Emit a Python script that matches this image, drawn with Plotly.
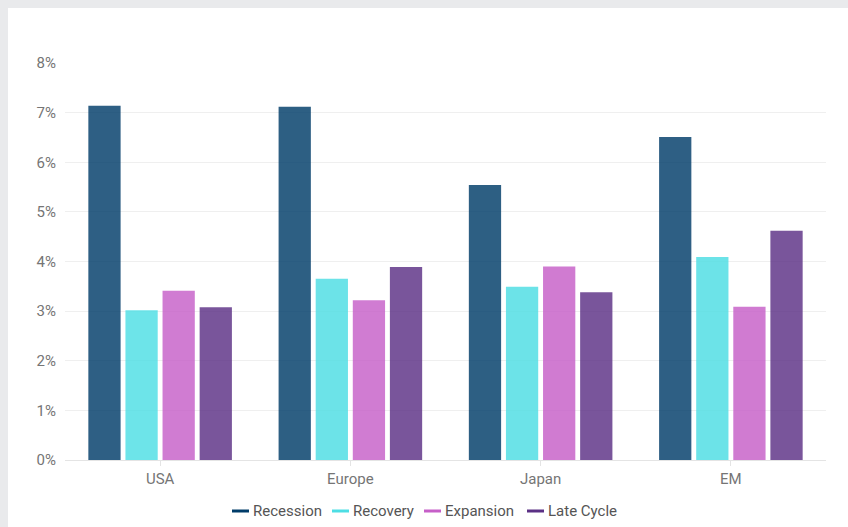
import plotly.graph_objects as go

regions = ["USA", "Europe", "Japan", "EM"]
series_names = ["Recession", "Recovery", "Expansion", "Late Cycle"]
recession = [7.14, 7.12, 5.54, 6.51]
recovery = [3.02, 3.65, 3.49, 4.09]
expansion = [3.41, 3.22, 3.90, 3.09]
late_cycle = [3.08, 3.89, 3.38, 4.62]
y_ticks = [0, 1, 2, 3, 4, 5, 6, 7, 8]
y_tick_labels = ["0%", "1%", "2%", "3%", "4%", "5%", "6%", "7%", "8%"]

colors = ["#003c69", "#4ddee4", "#c65fc8", "#5b3085"]
values = [recession, recovery, expansion, late_cycle]

W, H = 848, 527
ML, MR, MT, MB = 65, 22, 63, 67
PW = W - ML - MR
PH = H - MT - MB


def px_x(px):
    return (px - ML) / PW


def px_y(py):
    return (H - MB - py) / PH


fig = go.Figure()
for name, vals, col in zip(series_names, values, colors):
    fig.add_trace(go.Bar(
        x=regions, y=vals, name=name, marker_color=col, opacity=0.82,
        marker_line_width=0, showlegend=False,
        hovertemplate="%{x}: %{y:.2f}%<extra>" + name + "</extra>",
    ))

# gray frame strips (left and top)
fig.add_shape(type="rect", xref="paper", yref="paper", x0=px_x(-5), x1=px_x(8),
              y0=px_y(H + 5), y1=px_y(-5), fillcolor="#e9eaec", line_width=0, layer="below")
fig.add_shape(type="rect", xref="paper", yref="paper", x0=px_x(-5), x1=px_x(W + 5),
              y0=px_y(8), y1=px_y(-5), fillcolor="#e9eaec", line_width=0, layer="below")

# custom legend (short thick line + label), laid out left to right
legend_starts = [232, 332, 424, 527]
legend_y = 511
for name, col, x0 in zip(series_names, colors, legend_starts):
    fig.add_shape(type="line", xref="paper", yref="paper",
                  x0=px_x(x0), x1=px_x(x0 + 17), y0=px_y(legend_y), y1=px_y(legend_y),
                  line=dict(color=col, width=3))
    fig.add_annotation(xref="paper", yref="paper", x=px_x(x0 + 19), y=px_y(legend_y),
                       text=name, showarrow=False, xanchor="left", yanchor="middle",
                       font=dict(size=15, color="#555555"))

fig.update_layout(
    width=W, height=H, autosize=False,
    margin=dict(l=ML, r=MR, t=MT, b=MB, pad=0, autoexpand=False),
    paper_bgcolor="white", plot_bgcolor="white",
    font=dict(family="Roboto, Open Sans, sans-serif", size=15, color="#757575"),
    barmode="group", bargap=0.22, bargroupgap=0.13,
    showlegend=False,
    xaxis=dict(showgrid=False, ticks="outside", ticklen=5, tickcolor="#e4e4e4",
               showline=True, linecolor="#e4e4e4", linewidth=1,
               tickfont=dict(size=15, color="#757575"), automargin=False),
    yaxis=dict(range=[0, 8], tickvals=y_ticks, ticktext=y_tick_labels,
               showgrid=True, gridcolor="#efefef", gridwidth=1,
               zeroline=False, showline=False, ticks="", ticklabelstandoff=8,
               tickfont=dict(size=15, color="#757575"), automargin=False),
)

fig.write_html("out.html")
